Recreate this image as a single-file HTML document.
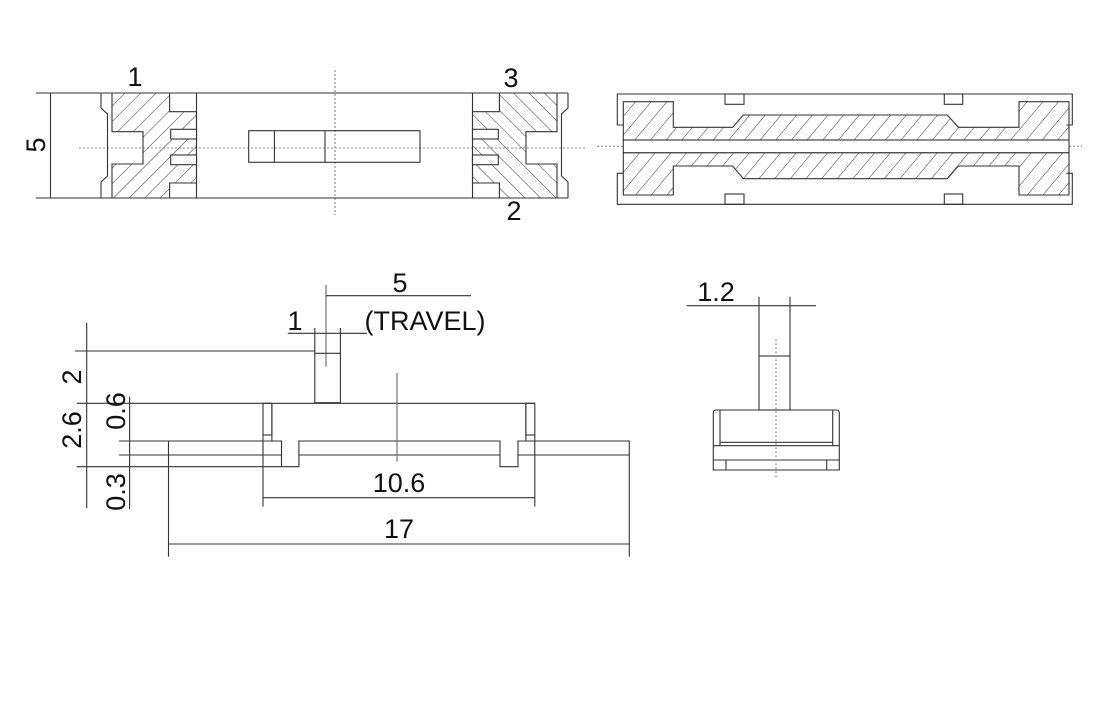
<!DOCTYPE html>
<html><head><meta charset="utf-8"><style>
html,body{margin:0;padding:0;background:#fff;}
svg{display:block}
text{font-family:"Liberation Sans",Arial,sans-serif;fill:#111;font-size:27px}
</style></head><body>
<svg width="1120" height="712" viewBox="0 0 1120 712" xmlns="http://www.w3.org/2000/svg">
<defs>
<pattern id="hf" width="11" height="11" patternUnits="userSpaceOnUse" patternTransform="rotate(45)">
<line x1="0" y1="0" x2="0" y2="11" stroke="#333" stroke-width="1"/></pattern>
<pattern id="hb" width="11" height="11" patternUnits="userSpaceOnUse" patternTransform="rotate(-45)">
<line x1="0" y1="0" x2="0" y2="11" stroke="#333" stroke-width="1"/></pattern>
<pattern id="hr" width="12" height="12" patternUnits="userSpaceOnUse" patternTransform="rotate(40)">
<line x1="0" y1="0" x2="0" y2="12" stroke="#333" stroke-width="1"/></pattern>
</defs>
<g fill="none" stroke="#333" stroke-width="1.1">
<!-- TOP LEFT VIEW -->
<line x1="79" y1="148" x2="586" y2="148" stroke="#888" stroke-dasharray="2,2"/>
<line x1="335" y1="70" x2="335" y2="215" stroke="#888" stroke-dasharray="2,2"/>
<line x1="36" y1="93" x2="101" y2="93"/>
<line x1="36" y1="198" x2="101" y2="198"/>
<line x1="50.5" y1="93" x2="50.5" y2="198"/>
<line x1="101" y1="93" x2="568" y2="93"/>
<line x1="101" y1="198" x2="568" y2="198"/>
<path d="M101,93 V108 L107.5,114 V176 L101,182 V198"/>
<path d="M568,93 V108 L561.5,114 V176 L568,182 V198"/>
<line x1="196.5" y1="93" x2="196.5" y2="198"/>
<line x1="472.5" y1="93" x2="472.5" y2="198"/>
<path fill="url(#hf)" d="M112,93 H169.6 V111.7 H196.5 V183 H169.6 V198 H112 V164 H143 V131.7 H112 Z"/>
<path fill="url(#hb)" d="M557,93 H499.4 V111.7 H472.5 V183 H499.4 V198 H557 V164 H526 V131.7 H557 Z"/>
<rect x="170.7" y="129.3" width="25.8" height="9.7" fill="#fff"/>
<rect x="170.7" y="155" width="25.8" height="9.7" fill="#fff"/>
<rect x="472.5" y="129.3" width="25.8" height="9.7" fill="#fff"/>
<rect x="472.5" y="155" width="25.8" height="9.7" fill="#fff"/>
<rect x="248.7" y="130.7" width="171.3" height="31.6"/>
<line x1="274.4" y1="130.7" x2="274.4" y2="162.3"/>
<line x1="325" y1="130.7" x2="325" y2="162.3"/>

<!-- TOP RIGHT VIEW -->
<line x1="597" y1="146.3" x2="1082" y2="146.3" stroke="#888" stroke-dasharray="2,2"/>
<path d="M623.3,125 H617.3 V94 H1072.3 V125 H1066.3"/>
<path d="M623.3,173.3 H617.3 V204.3 H1072.3 V173.3 H1066.3"/>
<rect x="725" y="94" width="19" height="10.3"/>
<rect x="944.3" y="94" width="18.4" height="10.3"/>
<rect x="725" y="194" width="19" height="10.3"/>
<rect x="944.3" y="194" width="18.4" height="10.3"/>
<path fill="url(#hr)" d="M623.3,101.7 H673.3 V127.3 H732.7 L743.3,115 H947.3 L958.3,127.3 H1019 V101.7 H1069 V140 H623.3 Z"/>
<path fill="url(#hr)" d="M623.3,195 H673.3 V166 H732.7 L743.3,178.7 H947.3 L958.3,166 H1019 V195 H1069 V152.7 H623.3 Z"/>
<rect x="623.3" y="140" width="445.7" height="12.7" fill="#fff"/>

<!-- BOTTOM LEFT VIEW -->
<line x1="326" y1="285" x2="326" y2="366.7" stroke="#666"/>
<line x1="326" y1="295.7" x2="471" y2="295.7"/>
<line x1="287.8" y1="333.3" x2="367" y2="333.3"/>
<line x1="314.8" y1="328" x2="314.8" y2="353.3"/>
<line x1="340.4" y1="328" x2="340.4" y2="353.3"/>
<rect x="314.8" y="353.3" width="25.6" height="49.4"/>
<line x1="74.8" y1="351" x2="314.8" y2="351"/>
<line x1="86.7" y1="322.7" x2="86.7" y2="508.3"/>
<line x1="129.6" y1="396.7" x2="129.6" y2="509.3"/>
<line x1="76.7" y1="403.3" x2="534.8" y2="403.3"/>
<line x1="119" y1="441" x2="168.5" y2="441"/>
<line x1="119" y1="455" x2="168.5" y2="455"/>
<line x1="76.7" y1="466.7" x2="281.5" y2="466.7"/>
<rect x="263" y="403.3" width="8.9" height="31.7"/>
<rect x="525.9" y="403.3" width="8.9" height="31.7"/>
<line x1="271.9" y1="403.3" x2="271.9" y2="441"/>
<line x1="525.9" y1="403.3" x2="525.9" y2="441"/>
<path d="M281.5,441 H168.5 V455 H281.5"/>
<path d="M271.9,441 H281.5 V466.7 H298.9 V441 H500 V466.7 H518 V441 H525.9"/>
<line x1="298.9" y1="455" x2="500" y2="455"/>
<path d="M518,455 H629.3 V441 H518"/>
<line x1="397" y1="373" x2="397" y2="461.7" stroke="#666"/>
<line x1="263" y1="435" x2="263" y2="506.7"/>
<line x1="534.8" y1="435" x2="534.8" y2="506.7"/>
<line x1="263" y1="497.7" x2="534.8" y2="497.7"/>
<line x1="168.5" y1="455" x2="168.5" y2="556.7"/>
<line x1="629.3" y1="455" x2="629.3" y2="556.7"/>
<line x1="168.5" y1="544" x2="629.3" y2="544"/>

<!-- BOTTOM RIGHT VIEW -->
<line x1="686.7" y1="305.7" x2="816" y2="305.7"/>
<line x1="759" y1="296.7" x2="759" y2="356"/>
<line x1="790" y1="296.7" x2="790" y2="356"/>
<rect x="759" y="356" width="31" height="54"/>
<path d="M713.3,470 V413 Q713.3,410 716.3,410 H836.3 Q839.3,410 839.3,413 V470 Z"/>
<line x1="720" y1="410" x2="720" y2="445.7"/>
<line x1="832.7" y1="410" x2="832.7" y2="445.7"/>
<line x1="720" y1="442.3" x2="832.7" y2="442.3"/>
<line x1="713.3" y1="445.7" x2="839.3" y2="445.7"/>
<line x1="713.3" y1="460" x2="839.3" y2="460"/>
<line x1="726" y1="460" x2="726" y2="470"/>
<line x1="826.7" y1="460" x2="826.7" y2="470"/>
<line x1="776" y1="339.3" x2="776" y2="478" stroke="#888" stroke-dasharray="2,2"/>
</g>
<g>
<text x="135" y="86" text-anchor="middle">1</text>
<text x="511" y="87" text-anchor="middle">3</text>
<text x="514" y="220" text-anchor="middle">2</text>
<text transform="translate(45,145) rotate(-90)" text-anchor="middle">5</text>
<text x="400" y="292" text-anchor="middle">5</text>
<text x="425" y="330" text-anchor="middle">(TRAVEL)</text>
<text x="295" y="330" text-anchor="middle">1</text>
<text transform="translate(81,377) rotate(-90)" text-anchor="middle">2</text>
<text transform="translate(81,430) rotate(-90)" text-anchor="middle">2.6</text>
<text transform="translate(125,411) rotate(-90)" text-anchor="middle">0.6</text>
<text transform="translate(125,492) rotate(-90)" text-anchor="middle">0.3</text>
<text x="399" y="492" text-anchor="middle">10.6</text>
<text x="399" y="538" text-anchor="middle">17</text>
<text x="716" y="301" text-anchor="middle">1.2</text>
</g>
</svg>
</body></html>
